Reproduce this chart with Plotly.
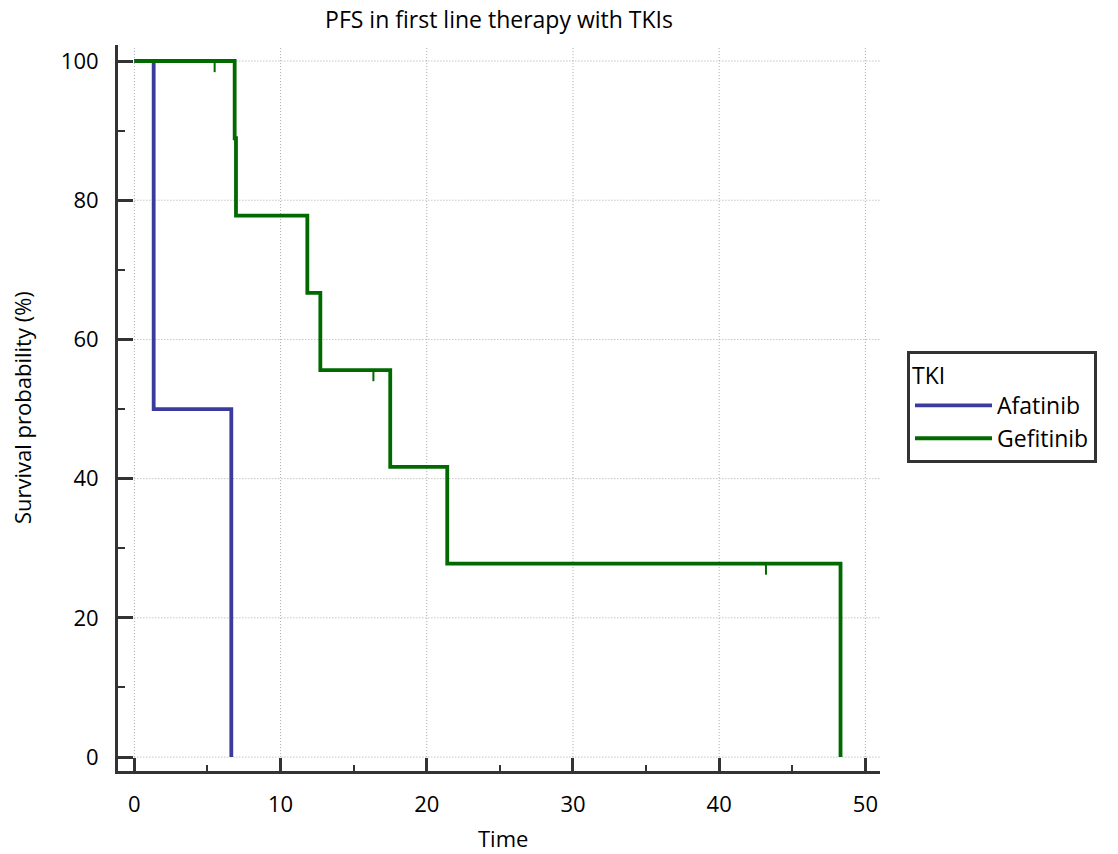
import plotly.graph_objects as go

# ---- data (Kaplan-Meier step functions) ----
afatinib_time = [0, 1.32, 1.32, 6.63, 6.63]
afatinib_surv = [100, 100, 50, 50, 0]

gefitinib_time = [0, 6.86, 6.86, 6.95, 6.95, 11.83, 11.83, 12.72, 12.72, 17.5, 17.5, 21.4, 21.4, 48.3, 48.3]
gefitinib_surv = [100, 100, 88.9, 88.9, 77.8, 77.8, 66.7, 66.7, 55.6, 55.6, 41.7, 41.7, 27.8, 27.8, 0]

gefitinib_censor_time = [5.49, 16.35, 43.2]
gefitinib_censor_surv = [100, 55.6, 27.8]

x_ticks = [0, 10, 20, 30, 40, 50]
x_minor = [5, 15, 25, 35, 45]
y_ticks = [0, 20, 40, 60, 80, 100]
y_minor = [10, 30, 50, 70, 90]

title_text = "PFS in first line therapy with TKIs"
x_title = "Time"
y_title = "Survival probability (%)"
legend_title = "TKI"

BLUE = "#3b3b9e"
GREEN = "#006a00"
AXIS = "#333333"
GRID = "#a8a8a8"
FONT = "Open Sans"
FS = 22
FS_T = 23

X_RANGE = [-1.12, 51.0]
Y_RANGE = [-2.0, 102.3]
CENSOR_LEN = 1.6

W, H = 1118, 854
ML, MR, MT, MB = 118, 238, 45, 83

fig = go.Figure()
fig.add_trace(go.Scatter(x=afatinib_time, y=afatinib_surv, mode="lines",
                         line=dict(color=BLUE, width=3.8), name="Afatinib"))
fig.add_trace(go.Scatter(x=gefitinib_time, y=gefitinib_surv, mode="lines",
                         line=dict(color=GREEN, width=3.8), name="Gefitinib"))

# censor marks (short downward ticks)
cx, cy = [], []
for t, s in zip(gefitinib_censor_time, gefitinib_censor_surv):
    cx += [t, t, None]
    cy += [s, s - CENSOR_LEN, None]
fig.add_trace(go.Scatter(x=cx, y=cy, mode="lines", line=dict(color=GREEN, width=2),
                         showlegend=False, hoverinfo="skip"))

# grid lines (dotted) starting at 0
shapes = []
for yv in y_ticks:
    shapes.append(dict(type="line", xref="x", yref="y", x0=0, x1=X_RANGE[1], y0=yv, y1=yv,
                       line=dict(color=GRID, width=1, dash="1px,2px"), layer="below"))
for xv in x_ticks:
    shapes.append(dict(type="line", xref="x", yref="y", x0=xv, x1=xv, y0=0, y1=Y_RANGE[1] - 0.3,
                       line=dict(color=GRID, width=1, dash="1px,2px"), layer="below"))

annotations = [
    dict(text=x_title, xref="paper", yref="paper", x=(503 - ML) / (W - ML - MR),
         y=-(838 - (H - MB)) / (H - MT - MB), xanchor="center", yanchor="middle",
         showarrow=False, font=dict(family=FONT, size=FS, color="black")),
    dict(text=y_title, xref="paper", yref="paper", x=-(ML - 22) / (W - ML - MR),
         y=((H - MB) - 408) / (H - MT - MB), xanchor="center", yanchor="middle",
         textangle=-90, showarrow=False, font=dict(family=FONT, size=FS, color="black")),
]

fig.update_layout(
    width=W, height=H,
    margin=dict(l=ML, r=MR, t=MT, b=MB, autoexpand=False),
    paper_bgcolor="white", plot_bgcolor="white",
    font=dict(family=FONT, size=FS, color="black"),
    title=dict(text=title_text, x=0.5, xref="paper", xanchor="center",
               y=1 - 20 / H, yref="container", yanchor="middle",
               font=dict(family=FONT, size=FS_T, color="black")),
    shapes=shapes,
    annotations=annotations,
    legend=dict(title=dict(text=legend_title, font=dict(size=FS_T)),
                x=(907 - ML) / (W - ML - MR), xanchor="left",
                y=((H - MB) - 407) / (H - MT - MB), yanchor="middle",
                bordercolor=AXIS, borderwidth=3, bgcolor="white",
                font=dict(family=FONT, size=FS_T), itemwidth=77),
    showlegend=True,
)

fig.update_xaxes(range=X_RANGE, tickvals=x_ticks, showgrid=False, zeroline=False,
                 showline=True, linecolor=AXIS, linewidth=3, automargin=False,
                 ticks="inside", ticklen=13, tickwidth=3, tickcolor=AXIS,
                 minor=dict(tickvals=x_minor, ticks="inside", ticklen=6,
                            tickwidth=2, tickcolor=AXIS, showgrid=False),
                 ticklabelstandoff=12, tickfont=dict(size=FS))
fig.update_yaxes(range=Y_RANGE, tickvals=y_ticks, showgrid=False, zeroline=False,
                 showline=True, linecolor=AXIS, linewidth=3, automargin=False,
                 ticks="inside", ticklen=15, tickwidth=3, tickcolor=AXIS,
                 minor=dict(tickvals=y_minor, ticks="inside", ticklen=7,
                            tickwidth=2, tickcolor=AXIS, showgrid=False),
                 ticklabelstandoff=12, tickfont=dict(size=FS))

fig.write_html("out.html", config={"displayModeBar": False},
               post_script="document.body.style.margin='0';document.body.style.overflow='hidden';")
